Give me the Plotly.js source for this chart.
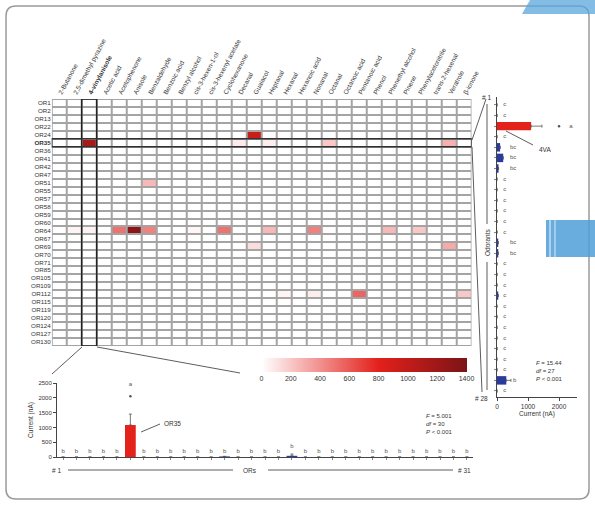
<!DOCTYPE html>
<html><head><meta charset="utf-8">
<script src="https://cdn.plot.ly/plotly-3.0.1.min.js"></script>
<style>html,body{margin:0;padding:0;background:#fff;}#chart{width:595px;height:506px;}</style>
</head><body><div id="chart"></div>
<script>
// ---------- DATA ----------
const odorants = ["2-Butanone","2,5-dimethyl pyrazine","4-vinylanisole","Acetic acid","Acetophenone","Anisole",
  "Benzaldehyde","Benzoic acid","Benzyl alcohol","cis-3-hexen-1-ol","cis-3-hexenyl acetate","Cyclohexanone",
  "Decanal","Guaiacol","Heptanal","Hexanal","Hexanoic acid","Nonanal","Octanal","Octanoic acid",
  "Pentanoic acid","Phenol","Phenethyl alcohol","Pinene","Phenylacetonitrile","trans-2-hexenal","Veratrole","β-ionone"];
const receptors = ["OR1","OR2","OR13","OR22","OR24","OR35","OR36","OR41","OR42","OR47","OR51","OR55","OR57","OR58",
  "OR59","OR60","OR64","OR67","OR69","OR70","OR71","OR85","OR105","OR109","OR112","OR115","OR119","OR120",
  "OR124","OR127","OR130"];
// non-zero heat map cells (receptor, odorant, current nA)
const hitReceptor = ["OR24","OR35","OR35","OR35","OR35","OR35","OR51",
  "OR64","OR64","OR64","OR64","OR64","OR64","OR64","OR64","OR64","OR64","OR64",
  "OR69","OR69","OR112","OR112","OR112","OR112"];
const hitOdorant = ["Guaiacol","4-vinylanisole","Decanal","Heptanal","Octanal","Veratrole","Benzaldehyde",
  "2,5-dimethyl pyrazine","4-vinylanisole","Acetophenone","Anisole","Benzaldehyde","cis-3-hexen-1-ol","Cyclohexanone","Heptanal","Nonanal","Phenethyl alcohol","Phenylacetonitrile",
  "Guaiacol","Veratrole","Pentanoic acid","Hexanal","Nonanal","β-ionone"];
const hitCurrent = [950,1150,70,60,200,280,250,
  40,50,500,1300,450,30,500,250,450,250,200,
  120,300,550,40,60,200];
const colorbarTicks = [0,200,400,600,800,1000,1200,1400];

// bottom panel: 31 ORs responding to 4VA
const orIndex = [1,2,3,4,5,6,7,8,9,10,11,12,13,14,15,16,17,18,19,20,21,22,23,24,25,26,27,28,29,30,31];
const orCurrent = [0,0,0,0,0,1080,0,0,0,0,0,0,20,0,0,0,0,40,0,0,0,0,0,0,0,0,0,0,0,0,0];
const orError = [0,0,0,0,0,370,0,0,0,0,0,0,0,0,0,0,0,60,0,0,0,0,0,0,0,0,0,0,0,0,0];
const orLetters = ["b","b","b","b","b","a","b","b","b","b","b","b","b","b","b","b","b","b","b","b","b","b","b","b","b","b","b","b","b","b","b"];
const orLetterY = [200,200,200,200,200,2450,200,200,200,200,200,200,200,200,200,200,200,350,200,200,200,200,200,200,200,200,200,200,200,200,200];
const orOutlierX = [6];
const orOutlierY = [2050];

// right panel: OR35 responding to 28 odorants
const odorIndex = [1,2,3,4,5,6,7,8,9,10,11,12,13,14,15,16,17,18,19,20,21,22,23,24,25,26,27,28];
const odorCurrent = [0,0,1100,0,100,200,50,0,0,0,0,0,0,40,40,0,0,0,40,0,0,0,0,0,0,0,300,0];
const odorError = [0,0,350,0,0,0,0,0,0,0,0,0,0,0,0,0,0,0,0,0,0,0,0,0,0,0,150,0];
const odorLetters = ["c","c","a","c","bc","bc","bc","c","c","c","c","c","c","bc","bc","c","c","c","c","c","c","c","c","c","c","c","b","c"];
const odorLetterX = [200,200,2330,200,420,420,420,200,200,200,200,200,200,420,420,200,200,200,200,200,200,200,200,200,200,200,520,200];
const odorOutlierX = [2000];
const odorOutlierY = [3];

// ---------- BUILD ----------
const W = 595, H = 506;
const px = v => v / W;
const py = v => 1 - v / H;
const FONT = "Liberation Sans, Arial, sans-serif";
const red = "#e3221c", blue = "#2a3a9e", ink = "#333";

const z = receptors.map(() => odorants.map(() => 0));
hitReceptor.forEach((r, i) => {
  z[receptors.indexOf(r)][odorants.indexOf(hitOdorant[i])] = hitCurrent[i];
});
const colIdx = odorants.map((_, i) => i);
const rowIdx = receptors.map((_, i) => i);
const focusOdor = odorants.indexOf("4-vinylanisole");
const focusOR = receptors.indexOf("OR35");

const traces = [
  {type: "heatmap", x: colIdx, y: rowIdx, z: z, xgap: 2, ygap: 2, zmin: 0, zmax: 1400,
   colorscale: [[0, "#ffffff"], [0.57, "#e3201b"], [1, "#7b1416"]], hoverinfo: "skip",
   colorbar: {orientation: "h", x: px(364), xanchor: "center", y: py(358), yanchor: "top",
     len: 205 / W, lenmode: "fraction", thickness: 14, thicknessmode: "pixels",
     tickvals: colorbarTicks, ticks: "", tickfont: {size: 7, color: ink}, outlinewidth: 0, xpad: 0, ypad: 0}},
  {type: "bar", x: orIndex, y: orCurrent, xaxis: "x2", yaxis: "y2", width: 0.8,
   marker: {color: orCurrent.map((v, i) => i === focusOR ? red : blue)},
   error_y: {type: "data", array: orError, arrayminus: orError.map(() => 0), symmetric: false,
     color: "#555", thickness: 0.8, width: 1.5}, hoverinfo: "skip"},
  {type: "scatter", mode: "text", x: orIndex, y: orLetterY, text: orLetters, xaxis: "x2", yaxis: "y2",
   textfont: {size: 6, color: "#555555", family: FONT}, cliponaxis: false, hoverinfo: "skip"},
  {type: "scatter", mode: "markers", x: orOutlierX, y: orOutlierY, xaxis: "x2", yaxis: "y2",
   marker: {size: 2.5, color: "#555"}, cliponaxis: false, hoverinfo: "skip"},
  {type: "bar", orientation: "h", y: odorIndex, x: odorCurrent, xaxis: "x3", yaxis: "y3", width: 0.8,
   marker: {color: odorCurrent.map((v, i) => i === focusOdor ? red : blue)},
   error_x: {type: "data", array: odorError, arrayminus: odorError.map(() => 0), symmetric: false,
     color: "#555", thickness: 0.8, width: 1.5}, hoverinfo: "skip"},
  {type: "scatter", mode: "text", x: odorLetterX, y: odorIndex, text: odorLetters, xaxis: "x3", yaxis: "y3",
   textposition: "middle right", textfont: {size: 6, color: "#555555", family: FONT}, cliponaxis: false, hoverinfo: "skip"},
  {type: "scatter", mode: "markers", x: odorOutlierX, y: odorOutlierY, xaxis: "x3", yaxis: "y3",
   marker: {size: 2.5, color: "#555"}, cliponaxis: false, hoverinfo: "skip"}
];

const line = (x0, y0, x1, y1, color, width) => ({type: "line", xref: "paper", yref: "paper",
  x0: px(x0), y0: py(y0), x1: px(x1), y1: py(y1), line: {color: color || ink, width: width || 0.8}});

const rx = 10 / W, ry = 10 / H;
const fx0 = px(6), fx1 = px(589), fy0 = py(499), fy1 = py(6);
const framePath = `M ${fx0 + rx} ${fy1} L ${fx1 - rx} ${fy1} Q ${fx1} ${fy1} ${fx1} ${fy1 - ry} L ${fx1} ${fy0 + ry} Q ${fx1} ${fy0} ${fx1 - rx} ${fy0} L ${fx0 + rx} ${fy0} Q ${fx0} ${fy0} ${fx0} ${fy0 + ry} L ${fx0} ${fy1 - ry} Q ${fx0} ${fy1} ${fx0 + rx} ${fy1} Z`;

const shapes = [
  {type: "path", xref: "paper", yref: "paper", path: framePath, line: {color: "#9a9a9a", width: 1.5}},
  {type: "path", xref: "paper", yref: "paper",
   path: `M ${px(530)} ${py(0)} L ${px(595)} ${py(0)} L ${px(595)} ${py(14)} L ${px(522)} ${py(14)} Z`,
   fillcolor: "#5aa6dc", opacity: 0.75, line: {width: 0}},
  {type: "rect", xref: "paper", yref: "paper", x0: px(546), x1: px(595), y0: py(257), y1: py(220),
   fillcolor: "#4f9fd8", opacity: 0.85, line: {width: 0}},
  line(550, 220, 550, 257, "#d8ecf8", 1.2), line(555, 220, 555, 257, "#d8ecf8", 1),
  // grid background behind heatmap cells
  {type: "rect", xref: "x", yref: "y", x0: -0.5, x1: 27.5, y0: -0.5, y1: 30.5, layer: "below",
   fillcolor: "#a4a4a4", line: {width: 0}},
  // highlight boxes
  {type: "rect", xref: "x", yref: "y", x0: focusOdor - 0.5, x1: focusOdor + 0.5, y0: -0.5, y1: 30.5,
   line: {color: "#222", width: 1.5}},
  {type: "rect", xref: "x", yref: "y", x0: -0.5, x1: 27.5, y0: focusOR - 0.5, y1: focusOR + 0.5,
   line: {color: "#333", width: 1.5}},
  // connectors
  line(82, 347, 52, 374), line(97, 347, 240, 373),
  line(472, 140, 486, 99), line(472, 147, 482, 392),
  // bottom axis label line
  line(68, 470, 233, 470), line(268, 470, 453, 470),
  // right axis label line
  line(487, 104, 487, 224), line(487, 262, 487, 390),
  // pointers
  line(141, 432, 160, 424), line(506, 131, 533, 145)
];

const ann = (x, y, text, opts) => Object.assign({xref: "paper", yref: "paper", x: px(x), y: py(y), text: text,
  showarrow: false, font: {size: 6.5, color: ink, family: FONT}, xanchor: "left", yanchor: "middle"}, opts || {});

const annotations = [
  ann(162, 423, "OR35"),
  ann(537, 149, "4VA"),
  ann(424, 424, "<i>F</i> = 5.001<br><i>df</i> = 30<br><i>P</i> &lt; 0.001", {align: "left", font: {size: 6, color: ink, family: FONT}}),
  ann(534, 371, "<i>F</i> = 15.44<br><i>df</i> = 27<br><i>P</i> &lt; 0.001", {align: "left", font: {size: 6, color: ink, family: FONT}}),
  ann(56, 470, "# 1", {xanchor: "center"}),
  ann(250, 470, "ORs", {xanchor: "center"}),
  ann(464, 470, "# 31", {xanchor: "center"}),
  ann(486, 97, "# 1", {xanchor: "center"}),
  ann(481, 398, "# 28", {xanchor: "center"}),
  ann(487, 243, "Odorants", {xanchor: "center", textangle: -90})
];

const layout = {
  width: W, height: H, margin: {l: 0, r: 0, t: 0, b: 0},
  paper_bgcolor: "#ffffff", plot_bgcolor: "rgba(0,0,0,0)", showlegend: false,
  font: {family: FONT, color: ink, size: 6.5},
  xaxis: {domain: [px(51.7), px(471.7)], range: [-0.5, 27.5], anchor: "y", side: "top",
    tickvals: colIdx, ticktext: odorants.map((o, i) => i === focusOdor ? "<b>" + o + "</b>" : o),
    tickangle: -62, tickfont: {size: 6.5, color: ink}, ticks: "", showgrid: false, zeroline: false, fixedrange: true},
  yaxis: {domain: [py(346), py(99)], range: [30.5, -0.5], anchor: "x",
    tickvals: rowIdx, ticktext: receptors.map((r, i) => i === focusOR ? "<b>" + r + "</b>" : r),
    tickfont: {size: 6.2, color: ink}, ticks: "", showgrid: false, zeroline: false, fixedrange: true},
  xaxis2: {domain: [px(57), px(473)], range: [0.55, 31.45], anchor: "y2", showline: true, linecolor: "#444",
    linewidth: 1, ticks: "outside", ticklen: 2, tickcolor: "#888", tickvals: orIndex, showticklabels: false,
    showgrid: false, zeroline: false},
  yaxis2: {domain: [py(457), py(383)], range: [0, 2500], anchor: "x2", showline: true, linecolor: "#444",
    linewidth: 1, ticks: "outside", ticklen: 3, tickvals: [0, 500, 1000, 1500, 2000, 2500],
    tickfont: {size: 6, color: ink}, showgrid: false, zeroline: false,
    title: {text: "Current (nA)", font: {size: 6.5, color: ink}, standoff: 4}},
  xaxis3: {domain: [px(497), px(577)], range: [0, 2580], anchor: "y3", showline: true, linecolor: "#444",
    linewidth: 1, ticks: "outside", ticklen: 3, tickvals: [0, 1000, 2000], tickfont: {size: 6.5, color: ink},
    showgrid: false, zeroline: false, title: {text: "Current (nA)", font: {size: 6.5, color: ink}, standoff: 2}},
  yaxis3: {domain: [py(397), py(97)], range: [28.57, 0.25], anchor: "x3", showline: true, linecolor: "#444",
    linewidth: 1, ticks: "outside", ticklen: 2, tickcolor: "#888", tickvals: odorIndex, showticklabels: false,
    showgrid: false, zeroline: false},
  shapes: shapes,
  annotations: annotations
};

Plotly.newPlot("chart", traces, layout, {staticPlot: true, displayModeBar: false});
</script></body></html>
